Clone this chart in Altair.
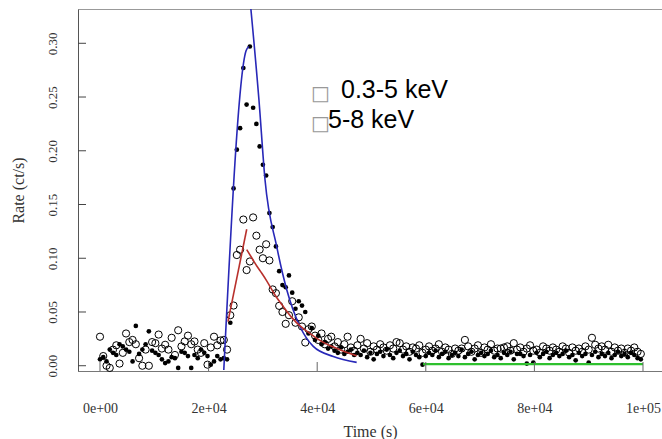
import altair as alt
import pandas as pd

# ---- data -------------------------------------------------------------
BIN_S = 600  # light-curve bin width (s)

rate_soft = [  # filled dots, 0.3-5 keV
    0.006, 0.008, 0.004, 0.015, 0.012, 0.010, 0.020, 0.018, 0.015, 0.013,
    0.004, 0.037, 0.011, 0.015, 0.020, 0.032, 0.014, 0.012, 0.010, 0.006,
    0.0025, 0.004, 0.008, 0.007, -0.002, 0.013, 0.012, 0.009, -0.002, 0.010,
    0.007, 0.015, 0.012, 0.009, 0.001, 0.004, 0.009, 0.006, 0.007, 0.006,
    0.040, 0.165, 0.201, 0.221, 0.277, 0.243, 0.297, 0.240, 0.225, 0.204,
    0.187, 0.177, 0.142, 0.129, 0.111, 0.088, 0.075, 0.073, 0.084, 0.068,
    0.053, 0.060, 0.056, 0.050, 0.030, 0.035, 0.024, 0.028, 0.020, 0.022,
    0.016, 0.018, 0.014, 0.012, 0.017, 0.011, 0.013, 0.015, 0.010, 0.012,
    0.010, 0.014, 0.008, 0.012, 0.006, 0.011, 0.013, 0.009, 0.015, 0.010,
    0.007, 0.012, 0.014, 0.009, 0.011, 0.006, 0.013, 0.010, 0.008, 0.001,
    0.009, 0.012, 0.010, 0.014, 0.008, 0.011, 0.013, 0.007, 0.010, 0.012,
    0.009, 0.015, 0.008, 0.011, 0.013, 0.006, 0.010, 0.012, 0.009, 0.011,
    0.014, 0.008, 0.010, 0.007, 0.012, 0.010, 0.013, 0.006, 0.011, 0.011,
    0.009, 0.002, 0.010, 0.003, 0.012, 0.008, 0.011, 0.013, 0.007, 0.010,
    0.012, 0.009, 0.011, 0.014, 0.008, 0.010, 0.005, 0.012, 0.009, 0.011,
    0.003, 0.010, 0.013, 0.008, 0.011, 0.009, 0.012, 0.007, 0.010, 0.013,
    0.009, 0.011, 0.008, 0.012, 0.010, 0.007, 0.006,
]

rate_hard = [  # open circles, 5-8 keV
    0.027, 0.009, 0.000, -0.002, 0.015, 0.019, 0.002, 0.012, 0.030, 0.022,
    0.024, 0.020, 0.007, 0.000, 0.015, 0.000, 0.022, 0.021, 0.029, 0.016,
    0.0195, 0.015, 0.026, 0.010, 0.033, 0.018, 0.0226, 0.028, 0.020, 0.0226,
    0.015, 0.012, 0.021, 0.001, 0.017, 0.027, 0.019, 0.0235, 0.024, 0.015,
    0.047, 0.056, 0.103, 0.108, 0.136, 0.089, 0.097, 0.138, 0.121, 0.108,
    0.100, 0.113, 0.098, 0.071, 0.0675, 0.0557, 0.050, 0.039, 0.047, 0.060,
    0.040, 0.045, 0.0365, 0.0216, 0.034, 0.0365, 0.028, 0.024, 0.030, 0.020,
    0.025, 0.027, 0.018, 0.022, 0.015, 0.020, 0.027, 0.017, 0.014, 0.019,
    0.025, 0.016, 0.021, 0.013, 0.018, 0.015, 0.020, 0.017, 0.014, 0.019,
    0.016, 0.022, 0.021, 0.015, 0.018, 0.013, 0.017, 0.016, 0.019, 0.012,
    0.015, 0.018, 0.014, 0.016, 0.020, 0.013, 0.017, 0.015, 0.011, 0.016,
    0.014, 0.016, 0.024, 0.018, 0.013, 0.016, 0.019, 0.012, 0.017, 0.015,
    0.020, 0.014, 0.016, 0.016, 0.017, 0.018, 0.014, 0.021, 0.015, 0.017,
    0.013, 0.016, 0.019, 0.014, 0.015, 0.012, 0.018, 0.016, 0.014, 0.017,
    0.015, 0.013, 0.018, 0.016, 0.012, 0.017, 0.014, 0.016, 0.013, 0.018,
    0.015, 0.026, 0.0195, 0.016, 0.018, 0.015, 0.0195, 0.013, 0.017, 0.014,
    0.016, 0.012, 0.016, 0.014, 0.017, 0.013, 0.011,
]

time_s = [BIN_S * k for k in range(len(rate_soft))]

# fitted model curves (vertices)
blue_rise_t = [22800, 26900, 27400]
blue_rise_v = [-0.004, 0.293, 0.297]
blue_decay_t = [27600, 29280, 30390, 32540, 34380, 36830, 39280, 42970, 47270]
blue_decay_v = [0.342, 0.247, 0.173, 0.111, 0.071, 0.0365, 0.018, 0.0086, 0.0031]

red_rise_t = [23570, 27020]
red_rise_v = [0.041, 0.127]
red_decay_t = [27020, 28000, 28840, 29800, 30700, 32200, 33760, 35300,
               36830, 38400, 39910, 41400, 42970, 45100, 47270]
red_decay_v = [0.108, 0.100, 0.093, 0.086, 0.079, 0.066, 0.055, 0.045,
               0.037, 0.031, 0.0255, 0.021, 0.0175, 0.013, 0.0093]

green_t = [59500, 100000]
green_v = [0.0015, 0.0015]

x_ticks = [0, 20000, 40000, 60000, 80000, 100000]
x_tick_labels = ["0e+00", "2e+04", "4e+04", "6e+04", "8e+04", "1e+05"]
y_ticks = [0.00, 0.05, 0.10, 0.15, 0.20, 0.25, 0.30]

legend_labels = ["0.3-5 keV", "5-8 keV"]
legend_box = "\u25a1"

# ---- build tables -----------------------------------------------------
soft_df = pd.DataFrame({"t": time_s, "rate": rate_soft})
hard_df = pd.DataFrame({"t": time_s, "rate": rate_hard})


def seg_df(t, v, name):
    return pd.DataFrame({"t": t, "rate": v, "seg": name})


blue_df = pd.concat([seg_df(blue_rise_t, blue_rise_v, "rise"),
                     seg_df(blue_decay_t, blue_decay_v, "decay")])
red_df = pd.concat([seg_df(red_rise_t, red_rise_v, "rise"),
                    seg_df(red_decay_t, red_decay_v, "decay")])
green_df = seg_df(green_t, green_v, "quiet")

W, H = 584, 362
SERIF = "Liberation Serif"
SANS = "Liberation Sans"

xs = alt.Scale(domain=[-4050, 103500], nice=False, zero=False)
ys = alt.Scale(domain=[-0.0049, 0.3319], nice=False, zero=False)

label_expr = "".join(
    f"datum.value == {v} ? '{s}' : " for v, s in zip(x_ticks, x_tick_labels)
) + "''"

x_axis = alt.Axis(values=x_ticks, labelExpr=label_expr, ticks=False, tickSize=0,
                  grid=False, domainColor="#777", domainWidth=1,
                  labelFont=SERIF, labelFontSize=14, labelColor="#333",
                  labelPadding=30, labelFlush=False, labelOverlap=False,
                  title="Time (s)", titleFont=SERIF, titleFontSize=16,
                  titleFontWeight="normal", titleColor="#333", titlePadding=8)
y_axis = alt.Axis(values=y_ticks, format=".2f", ticks=False, tickSize=0,
                  grid=False, domainColor="#555", domainWidth=1,
                  labelFont=SERIF, labelFontSize=13, labelColor="#333",
                  labelAngle=270, labelPadding=19, labelFlush=False,
                  labelOverlap=False,
                  title="Rate (ct/s)", titleFont=SERIF, titleFontSize=16,
                  titleFontWeight="normal", titleColor="#333", titlePadding=20)

soft = alt.Chart(soft_df).mark_circle(size=22, color="black", opacity=1).encode(
    x=alt.X("t:Q", scale=xs, axis=x_axis),
    y=alt.Y("rate:Q", scale=ys, axis=y_axis),
)
hard = alt.Chart(hard_df).mark_point(shape="circle", filled=False, size=52,
                                     color="black", strokeWidth=1,
                                     opacity=1).encode(
    x=alt.X("t:Q", scale=xs),
    y=alt.Y("rate:Q", scale=ys),
)


def curve(df, color, width):
    return alt.Chart(df).mark_line(color=color, strokeWidth=width, clip=True,
                                   interpolate="monotone").encode(
        x=alt.X("t:Q", scale=xs),
        y=alt.Y("rate:Q", scale=ys),
        detail="seg:N",
    )


blue = curve(blue_df, "#2828b8", 1.6)
red = curve(red_df, "#b8302c", 1.6)
green = curve(green_df, "#2ec02e", 2.2)

ytick_rules = alt.Chart(pd.DataFrame({"rate": y_ticks})).mark_rule(
    color="#444", strokeWidth=1).encode(
    y=alt.Y("rate:Q", scale=ys), x=alt.value(0), x2=alt.value(8))
xtick_rules = alt.Chart(pd.DataFrame({"t": x_ticks})).mark_rule(
    color="#666", strokeWidth=1).encode(
    x=alt.X("t:Q", scale=xs), y=alt.value(H), y2=alt.value(H - 9))

leg_rows = pd.DataFrame({"label": legend_labels, "box": [legend_box] * 2})


def legend_text(i, field, x, y, color, font, size):
    return alt.Chart(leg_rows.iloc[[i]]).mark_text(
        align="left", baseline="alphabetic", font=font, fontSize=size,
        color=color).encode(text=f"{field}:N", x=alt.value(x), y=alt.value(y))


legend_layers = [
    legend_text(0, "box", 233, 91, "#999", "DejaVu Sans", 20),
    legend_text(1, "box", 233, 121, "#999", "DejaVu Sans", 20),
    legend_text(0, "label", 263, 89, "black", SANS, 25),
    legend_text(1, "label", 250, 119, "black", SANS, 25),
]

chart = alt.layer(
    soft, hard, blue, red, green, ytick_rules, xtick_rules, *legend_layers
).properties(
    width=W, height=H,
    padding={"left": 78, "top": 9, "right": 0, "bottom": 68},
    autosize=alt.AutoSizeParams(type="none"),
    background="white",
).configure_view(stroke="#999", strokeWidth=1)

chart.save("out.html", embed_options={"renderer": "svg", "actions": False})
